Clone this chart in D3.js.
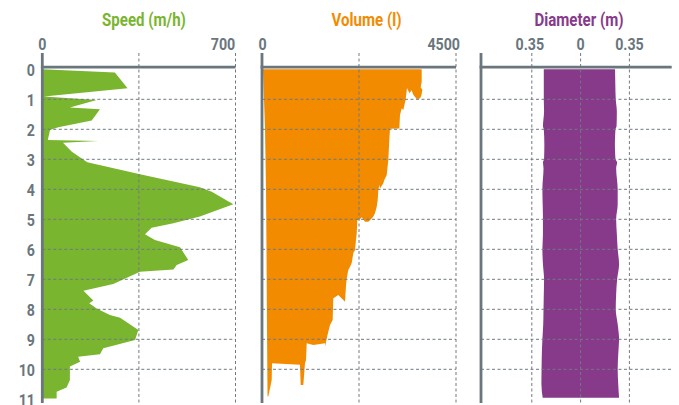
<!DOCTYPE html>
<html><head><meta charset="utf-8">
<script src="https://cdn.jsdelivr.net/npm/d3@7"></script>
<style>
body{margin:0;background:#fff;}
svg{display:block;}
text{font-family:Roboto,'Liberation Sans',sans-serif;font-weight:bold;}
</style></head><body>
<svg id="c" width="679" height="405"></svg>
<script>
// ---------- data ----------
const depthTicks = [0,1,2,3,4,5,6,7,8,9,10,11];
const gridDepths = [1,2,3,4,5,6,7,8,9,10];
const titles = ["Speed (m/h)", "Volume (l)", "Diameter (m)"];
const speedTicks = [0, 700];
const volumeTicks = [0, 4500];
const diameterTicks = [-0.35, 0, 0.35];
const diameterTickLabels = ["0.35", "0", "0.35"];

// speed profile (depth m, speed m/h)
const speedDepth = [0,0.11,0.63,0.91,1.02,1.27,1.33,1.71,1.93,2.02,2.36,2.39,2.45,2.75,3.1,3.5,3.93,4.08,4.5,4.91,5.13,5.28,5.5,5.69,5.93,6.36,6.52,6.67,6.75,7.16,7.38,7.71,7.8,7.97,8.19,8.28,8.69,9.02,9.3,9.5,9.58,9.75,9.91,10.36,10.61,10.75,10.97];
const speedValue = [0,263,309,6,197,100,209,179,58,28,20,202,75,107,163,354,571,614,692,571,475,396,372,408,499,529,487,475,354,257,149,185,170,197,245,282,348,336,221,209,130,137,100,100,88,52,52];

// volume profile, right edge (depth m, volume l)
const volumeDepth = [0,0.42,0.6,0.68,0.86,0.97,0.99,0.85,0.7,0.8,0.62,1.0,1.36,1.3,1.52,1.97,1.98,2.36,3.02,3.52,3.69,3.8,3.97,3.86,4.02,4.36,4.58,4.8,4.91,4.97,5.08,5.08,4.93,5.0,5.02,5.47,5.69,6.02,6.12,6.46,6.58,6.69,6.97,7.19,7.75,7.52,7.63,8.36,8.52,8.86,9.25,9.13,9.19,9.13,9.69,9.8,10.52,10.52,9.85,9.8,10.36,10.91];
const volumeValue = [3704,3704,3680,3720,3700,3665,3588,3510,3468,3421,3363,3333,3278,3241,3201,3185,2969,2953,2930,2893,2837,2814,2737,2721,2698,2684,2661,2621,2582,2545,2466,2389,2313,2273,2211,2197,2180,2158,2119,2081,2042,2002,1965,1949,1926,1770,1654,1639,1577,1520,1461,1461,1190,1037,1021,997,958,898,881,232,225,146];
// volume profile, left edge (depth m, volume l), bottom to top
const volumeLeftDepth = [10.9,8.7,6.0,4.0,2.0,1.0,0];
const volumeLeftValue = [128,116,104,93,70,46,23];

// diameter profile (depth m, left edge m, right edge m)
const diameterDepth = [0,0.5,1.0,1.4,1.9,2.0,2.5,3.0,3.1,3.3,4.0,4.5,5.0,5.5,6.0,6.5,7.0,7.5,8.0,8.5,9.0,9.5,10.0,10.5,10.95];
const diameterLeft  = [-0.264,-0.264,-0.264,-0.262,-0.27,-0.264,-0.26,-0.262,-0.27,-0.266,-0.274,-0.272,-0.27,-0.27,-0.274,-0.27,-0.262,-0.264,-0.266,-0.268,-0.274,-0.278,-0.28,-0.281,-0.272];
const diameterRight = [0.247,0.249,0.252,0.26,0.258,0.25,0.246,0.25,0.262,0.255,0.266,0.266,0.255,0.26,0.266,0.276,0.262,0.255,0.252,0.266,0.276,0.27,0.266,0.27,0.276];

// ---------- layout / style ----------
const GRAY = "#6a767e", GRID = "#6f7a81";
const colors = ["#7ab52f", "#f28b00", "#873a8a"];
const SQUEEZE = 0.86;
const svg = d3.select("#c");
const y = d3.scaleLinear().domain([0, 11]).range([69.3, 399.3]);
const topY = 53, botY = 403, axisY = 67.2;

const panels = [
  {x: d3.scaleLinear().domain([0, 700]).range([42.3, 235.5]), left: 42.3, right: 235.5, titleX: 144, ticks: speedTicks, labels: speedTicks.map(String), labelShift: [0, -12.5], vgrid: [350, 700]},
  {x: d3.scaleLinear().domain([0, 4500]).range([262, 456]), left: 262, right: 456, titleX: 366.5, ticks: volumeTicks, labels: volumeTicks.map(String), labelShift: [0.5, -12.3], vgrid: [2250, 4500]},
  {x: d3.scaleLinear().domain([-0.35, 0.35]).range([531.8, 629.4]), left: 481, right: 671.7, titleX: 579, ticks: diameterTicks, labels: diameterTickLabels, labelShift: [-2, 0, 0], vgrid: [-0.35, 0, 0.35]}
];

function squeeze(sel) {
  sel.each(function() {
    const w = this.getComputedTextLength();
    d3.select(this).attr("textLength", w * SQUEEZE).attr("lengthAdjust", "spacingAndGlyphs");
  });
}

// depth labels
const yAxis = d3.axisLeft(y).tickValues(depthTicks).tickSize(0).tickPadding(0).tickFormat(d3.format("d"));
const ya = svg.append("g").attr("transform", "translate(35,1)").call(yAxis);
ya.select(".domain").remove();
ya.selectAll("text").attr("fill", GRAY).attr("font-size", 16.5)
  .style("font-family", "Roboto,sans-serif").style("font-weight", "bold").call(squeeze);

// fills
const p0 = panels[0], p1 = panels[1], p2 = panels[2];
const speedPts = speedDepth.map((d, i) => [p0.x(speedValue[i]), y(d)]);
const speedPoly = [[p0.x(0), y(speedDepth[0])], ...speedPts, [p0.x(0), y(speedDepth[speedDepth.length - 1])]];
svg.append("path").attr("d", d3.line()(speedPoly) + "Z").attr("fill", colors[0]);

const volPts = volumeDepth.map((d, i) => [p1.x(volumeValue[i]), y(d)])
  .concat(volumeLeftDepth.map((d, i) => [p1.x(volumeLeftValue[i]), y(d)]));
svg.append("path").attr("d", d3.line()(volPts) + "Z").attr("fill", colors[1]);

const diaArea = d3.area().y(d => y(d)).x0((d, i) => p2.x(diameterLeft[i])).x1((d, i) => p2.x(diameterRight[i])).curve(d3.curveMonotoneY);
svg.append("path").attr("d", diaArea(diameterDepth)).attr("fill", colors[2]);

panels.forEach((p, k) => {
  const g = svg.append("g");
  g.selectAll("line.h").data(gridDepths).join("line")
    .attr("x1", p.left).attr("x2", p.right).attr("y1", d => y(d)).attr("y2", d => y(d))
    .attr("stroke", GRID).attr("stroke-width", 1).attr("stroke-dasharray", "3,2.5");
  g.selectAll("line.v").data(p.vgrid).join("line")
    .attr("x1", d => p.x(d)).attr("x2", d => p.x(d)).attr("y1", topY).attr("y2", botY)
    .attr("stroke", GRID).attr("stroke-width", 1).attr("stroke-dasharray", "3,2.5");
  g.append("line").attr("x1", p.left).attr("x2", p.left).attr("y1", topY).attr("y2", botY)
    .attr("stroke", GRAY).attr("stroke-width", 2.8);
  g.append("line").attr("x1", p.left - 1.4).attr("x2", p.right).attr("y1", axisY).attr("y2", axisY)
    .attr("stroke", GRAY).attr("stroke-width", 2.8);
  const ax = d3.axisTop(p.x).tickValues(p.ticks).tickSize(0).tickPadding(0).tickFormat((d, i) => p.labels[i]);
  const ag = svg.append("g").attr("transform", "translate(0,50)").call(ax);
  ag.select(".domain").remove();
  ag.selectAll(".tick").attr("transform", (d, i) => `translate(${p.x(d) + (p.labelShift[i] || 0)},0)`);
  ag.selectAll("text").attr("fill", GRAY).attr("font-size", 16.5).attr("dy", 0)
    .style("font-family", "Roboto,sans-serif").style("font-weight", "bold").call(squeeze);
  svg.append("text").attr("x", p.titleX).attr("y", 26).attr("text-anchor", "middle")
    .attr("fill", colors[k]).attr("font-size", 17.5).text(titles[k]).call(squeeze);
});
</script>
</body></html>
